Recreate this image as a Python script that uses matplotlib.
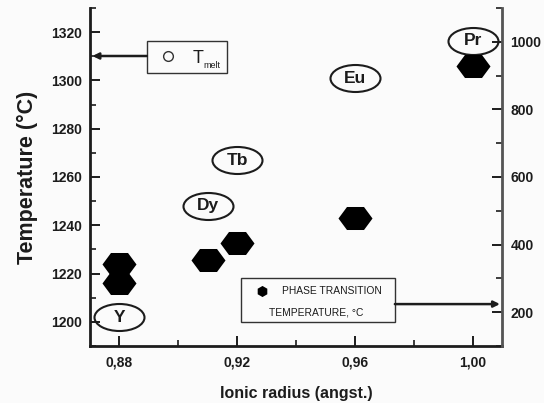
import matplotlib
matplotlib.use("Agg")
import matplotlib.pyplot as plt
import numpy as np
from matplotlib.path import Path
from matplotlib.ticker import MultipleLocator, FuncFormatter
from matplotlib.patches import Rectangle

plt.rcParams['font.family'] = ['Liberation Sans Narrow', 'Liberation Sans', 'DejaVu Sans']

# Ionic radius (angstrom) and element labels
elements = ["Y", "Dy", "Tb", "Eu", "Pr"]
radius = [0.88, 0.91, 0.92, 0.96, 1.00]
# Melting temperature (left axis, deg C)
t_melt = [1202, 1248, 1267, 1301, 1316.5]

# Phase transition temperatures (right axis, deg C)
pt_radius = [0.88, 0.88, 0.91, 0.92, 0.96, 1.00]
pt_temp = [344, 285, 353, 406, 480, 927]

ink = "#1c1c1c"

fig = plt.figure(figsize=(5.44, 4.03), dpi=100, facecolor="#fbfbfb")
ax = fig.add_axes([90 / 544, 57 / 403, 412 / 544, 338 / 403])
ax.set_facecolor("#fbfbfb")
ax2 = ax.twinx()

# stretched hexagon (flat top, pointed sides) and ellipse outline markers
a = 23 / 34
hex_path = Path([(-1, 0), (-0.5, a), (0.5, a), (1, 0), (0.5, -a), (-0.5, -a), (-1, 0)],
                [Path.MOVETO] + [Path.LINETO] * 5 + [Path.CLOSEPOLY])
circ = Path.unit_circle()
ell_path = Path(circ.vertices * np.array([1.0, 0.54]), circ.codes)

ax2.plot(pt_radius, pt_temp, linestyle="none", marker=hex_path, markersize=24.5,
         color="black", markeredgewidth=0, zorder=3)

ax.plot(radius, t_melt, linestyle="none", marker=ell_path, markersize=36,
        markerfacecolor="none", markeredgecolor=ink, markeredgewidth=1.5, zorder=3)
for el, x, y in zip(elements, radius, t_melt):
    ax.text(x, y, el, ha="center", va="center", fontsize=12.5, fontweight="bold",
            color=ink, zorder=4)

# axes limits and ticks
ax.set_xlim(0.87, 1.01)
ax.set_ylim(1190, 1330)
ax2.set_ylim(100, 1100)
ax.xaxis.set_major_locator(MultipleLocator(0.04))
ax.xaxis.set_minor_locator(MultipleLocator(0.02))
ax.yaxis.set_major_locator(MultipleLocator(20))
ax.yaxis.set_minor_locator(MultipleLocator(10))
ax2.yaxis.set_major_locator(MultipleLocator(200))
ax2.yaxis.set_minor_locator(MultipleLocator(100))
ax.set_xticks([0.88, 0.92, 0.96, 1.00])
ax.xaxis.set_major_formatter(FuncFormatter(lambda v, p: f"{v:.2f}".replace(".", ",")))

for axis in (ax, ax2):
    axis.spines["top"].set_visible(False)
    axis.tick_params(which="major", direction="in", length=7, width=1.4, colors=ink,
                     labelsize=10, pad=6)
    axis.tick_params(which="minor", direction="in", length=4, width=1.2, colors=ink)
ax.tick_params(axis="x", which="major", pad=7)
for lab in ax.get_xticklabels() + ax.get_yticklabels() + ax2.get_yticklabels():
    lab.set_fontweight("bold")

for s in ("left", "bottom"):
    ax.spines[s].set_linewidth(2)
    ax.spines[s].set_color(ink)
ax2.spines["right"].set_linewidth(2)
ax2.spines["right"].set_color("#555555")
ax2.spines["left"].set_visible(False)
ax2.spines["bottom"].set_visible(False)

ax.set_xlabel("Ionic radius (angst.)", fontsize=11.5, fontweight="bold", color=ink, labelpad=12)
ax.set_ylabel("Temperature (°C)", fontsize=15.5, fontweight="bold", color=ink, labelpad=9)

# legend box for the melting temperature, with arrow to the left axis
ax.add_patch(Rectangle((0.138, 0.808), 0.1945, 0.094, transform=ax.transAxes,
                       facecolor="#fbfbfb", edgecolor="#333333", linewidth=1.0, zorder=5))
ax.plot([0.189], [0.858], transform=ax.transAxes, marker="o", markersize=7,
        markerfacecolor="none", markeredgecolor="#333333", markeredgewidth=1.0, zorder=6)
ax.text(0.250, 0.837, "T", transform=ax.transAxes, fontsize=13, color=ink,
        ha="left", va="baseline", zorder=6)
ax.text(0.276, 0.822, "melt", transform=ax.transAxes, fontsize=6.5, color=ink,
        ha="left", va="baseline", zorder=6)
ax.annotate("", xy=(0.006, 0.858), xycoords="axes fraction",
            xytext=(0.138, 0.858), textcoords="axes fraction",
            arrowprops=dict(arrowstyle="-|>", lw=1.8, color=ink, mutation_scale=9,
                            shrinkA=0, shrinkB=0), zorder=6)

# legend box for the phase transition temperature, with arrow to the right axis
ax.add_patch(Rectangle((0.3665, 0.071), 0.3735, 0.130, transform=ax.transAxes,
                       facecolor="#fbfbfb", edgecolor="#333333", linewidth=1.0, zorder=5))
ax.plot([0.4175], [0.163], transform=ax.transAxes, marker="h", markersize=8,
        color="black", markeredgewidth=0, zorder=6)
ax.text(0.466, 0.163, "PHASE TRANSITION", transform=ax.transAxes, fontsize=7.4,
        color=ink, ha="left", va="center", zorder=6)
ax.text(0.434, 0.100, "TEMPERATURE, °C", transform=ax.transAxes, fontsize=7.4,
        color=ink, ha="left", va="center", zorder=6)
ax.annotate("", xy=(0.995, 0.124), xycoords="axes fraction",
            xytext=(0.740, 0.124), textcoords="axes fraction",
            arrowprops=dict(arrowstyle="-|>", lw=1.8, color=ink, mutation_scale=9,
                            shrinkA=0, shrinkB=0), zorder=6)

fig.savefig("out.png", dpi=100, facecolor=fig.get_facecolor())
